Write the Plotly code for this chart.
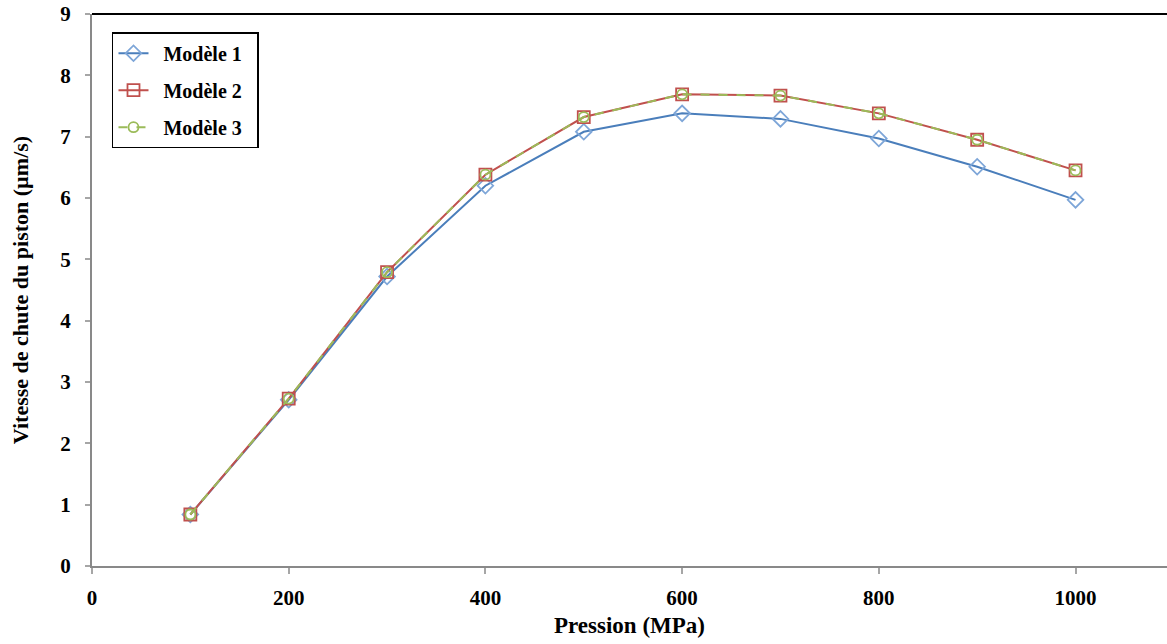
import plotly.graph_objects as go

pression = [100, 200, 300, 400, 500, 600, 700, 800, 900, 1000]
modele1 = [0.84, 2.71, 4.72, 6.20, 7.08, 7.38, 7.29, 6.97, 6.51, 5.97]
modele2 = [0.84, 2.73, 4.79, 6.38, 7.32, 7.69, 7.67, 7.38, 6.95, 6.45]
modele3 = [0.84, 2.73, 4.79, 6.38, 7.32, 7.69, 7.67, 7.38, 6.95, 6.45]
noms = ["Modèle 1", "Modèle 2", "Modèle 3"]

x_ticks = [0, 200, 400, 600, 800, 1000]
y_ticks = list(range(0, 10))

FONT = "Liberation Serif"
PAD = "\u00a0\u00a0"

fig = go.Figure()
fig.add_trace(go.Scatter(
    x=pression, y=modele1, name=PAD + noms[0] + PAD, mode="lines+markers",
    legendgroup="m1",
    line=dict(color="#4A7EBB", width=2),
    marker=dict(symbol="diamond-open", size=12, color="#7EA6D8", line=dict(width=1.8, color="#7EA6D8"))))
fig.add_trace(go.Scatter(
    x=pression, y=modele2, name=PAD + noms[1] + PAD, mode="lines+markers",
    legendgroup="m2",
    line=dict(color="#C0504D", width=2),
    marker=dict(symbol="square-open", size=12, color="#C0504D", line=dict(width=1.8, color="#C0504D"))))
fig.add_trace(go.Scatter(
    x=pression, y=modele3, name=PAD + noms[2] + PAD, mode="lines+markers",
    legendgroup="m3",
    line=dict(color="#9BBB59", width=2, dash="dash"),
    marker=dict(symbol="circle-open", size=10, color="#9BBB59", line=dict(width=1.8, color="#9BBB59"))))

fig.update_layout(
    width=1167, height=644,
    margin=dict(l=92, r=0, t=14, b=78),
    paper_bgcolor="white", plot_bgcolor="white",
    font=dict(family=FONT, size=21, color="black", weight="bold"),
    showlegend=True,
    legend=dict(x=0.0186, y=0.967, xanchor="left", yanchor="top",
                bgcolor="white", bordercolor="black", borderwidth=1.5,
                font=dict(family=FONT, size=20, color="black", weight="bold"),
                traceorder="grouped", tracegroupgap=8, itemwidth=30),
    xaxis=dict(range=[0, 1093], tickvals=x_ticks, ticktext=[str(v) for v in x_ticks],
               showgrid=False, zeroline=False, showline=True, linecolor="#898989", linewidth=2,
               ticks="outside", ticklen=6, tickcolor="#A6A6A6", tickwidth=1.5,
               ticklabelstandoff=6,
               title=dict(text="Pression (MPa)", font=dict(family=FONT, size=23, weight="bold"), standoff=8)),
    yaxis=dict(range=[0, 9], tickvals=y_ticks, ticktext=[str(v) for v in y_ticks],
               showgrid=False, zeroline=False, showline=True, linecolor="#898989", linewidth=2,
               ticks="outside", ticklen=5, tickcolor="#A6A6A6", tickwidth=1.5,
               ticklabelstandoff=10,
               title=dict(text="Vitesse de chute du piston (µm/s)", font=dict(family=FONT, size=22, weight="bold"), standoff=26)),
    shapes=[dict(type="line", xref="paper", yref="paper", x0=0, x1=1, y0=1, y1=1,
                 line=dict(color="black", width=2))],
)

fig.write_html("out.html", config={"displayModeBar": False},
               post_script="document.body.style.margin='0';document.body.style.overflow='hidden';")
